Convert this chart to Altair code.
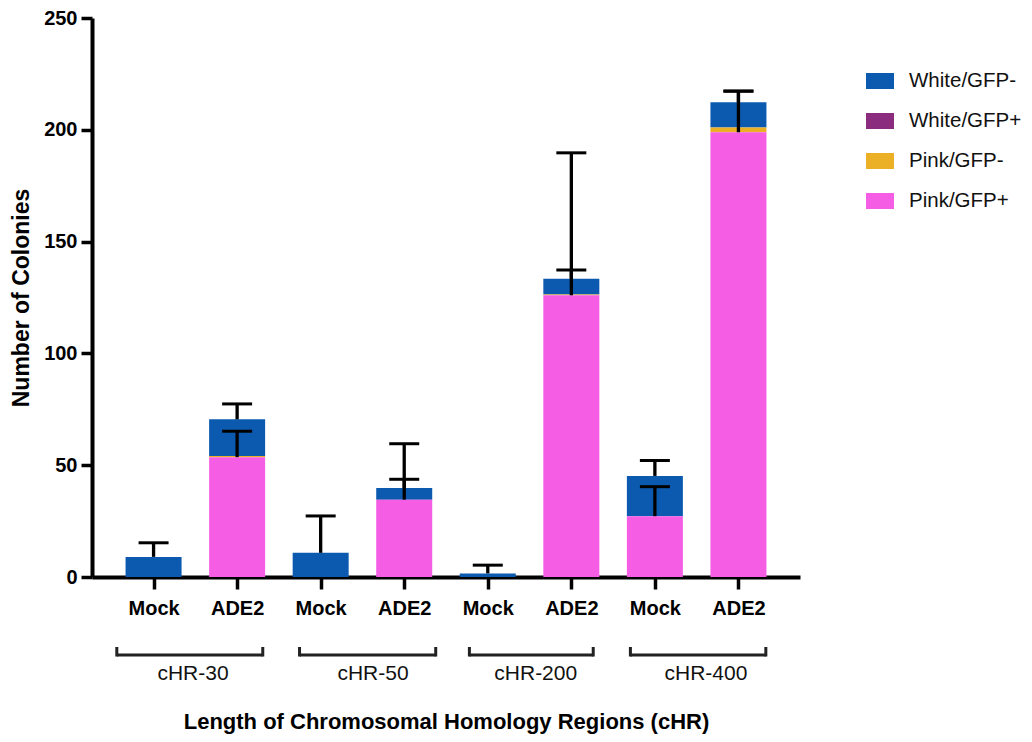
import altair as alt
import pandas as pd

# ---- data ----
groups = ["cHR-30", "cHR-50", "cHR-200", "cHR-400"]
tick_labels = ["Mock", "ADE2", "Mock", "ADE2", "Mock", "ADE2", "Mock", "ADE2"]
bar_group = ["cHR-30", "cHR-30", "cHR-50", "cHR-50", "cHR-200", "cHR-200", "cHR-400", "cHR-400"]
positions = [0, 1, 2, 3, 4, 5, 6, 7]

series = ["White/GFP-", "White/GFP+", "Pink/GFP-", "Pink/GFP+"]
colors = ["#0B5AB0", "#8B2C7E", "#ECB026", "#F55DE4"]
stack_rank = [3, 2, 1, 0]  # Pink/GFP+ at the bottom

white_gfp_neg = [9.0, 16.4, 10.8, 5.2, 1.6, 7.1, 18.0, 11.3]
white_gfp_pos = [0, 0, 0, 0, 0, 0, 0, 0]
pink_gfp_neg = [0, 0.5, 0, 0, 0, 0.3, 0, 2.1]
pink_gfp_pos = [0, 53.6, 0, 34.6, 0, 126.0, 27.2, 198.9]

total_sd = [6.3, 6.9, 16.5, 19.8, 3.7, 56.3, 6.9, 5.0]
pink_sd = [None, 11.6, None, 9.1, None, 11.3, 13.2, 18.4]

# group bracket spans and label centres, in bar-position units
bracket_start = [-0.44, 1.747, 3.78, 5.707]
bracket_end = [1.307, 3.377, 5.262, 7.328]
group_label_x = [0.472, 2.626, 4.574, 6.611]

# ---- tables ----
vals = [white_gfp_neg, white_gfp_pos, pink_gfp_neg, pink_gfp_pos]
rows = []
for s, r, v in zip(series, stack_rank, vals):
    for p, val in zip(positions, v):
        rows.append({"pos": p, "series": s, "rank": r, "value": val})
bar_df = pd.DataFrame(rows)

err_rows = []
for i, p in enumerate(positions):
    total = white_gfp_neg[i] + white_gfp_pos[i] + pink_gfp_neg[i] + pink_gfp_pos[i]
    err_rows.append({"pos": p, "base": total, "top": total + total_sd[i]})
    if pink_sd[i] is not None:
        err_rows.append({"pos": p, "base": pink_gfp_pos[i], "top": pink_gfp_pos[i] + pink_sd[i]})
err_df = pd.DataFrame(err_rows)

br_df = pd.DataFrame({"group": groups, "start": bracket_start, "end": bracket_end,
                      "label_x": group_label_x})

FONT = "Liberation Sans"
x_scale = alt.Scale(domain=[-0.677, 7.677], nice=False, zero=False)
y_scale = alt.Scale(domain=[0, 250], nice=False)
label_expr = "[" + ",".join("'" + t + "'" for t in tick_labels) + "][datum.value]"
legend_symbol = "M-1,-0.57L1,-0.57L1,0.57L-1,0.57Z"

bars = alt.Chart(bar_df).mark_bar(size=56).encode(
    x=alt.X("pos:Q", scale=x_scale,
            axis=alt.Axis(values=positions, labelExpr=label_expr,
                          title="Length of Chromosomal Homology Regions (cHR)",
                          domainWidth=4, domainColor="black",
                          tickWidth=3.5, tickSize=12, tickColor="black",
                          labelFont=FONT, labelFontSize=20, labelFontWeight="bold",
                          labelColor="black", labelPadding=9, labelFlush=False,
                          labelOverlap=False, labelBound=False,
                          titleFont=FONT, titleFontSize=22, titleFontWeight="bold",
                          titleColor="black", titleY=151.5, titleBaseline="alphabetic")),
    y=alt.Y("value:Q", stack="zero", scale=y_scale,
            axis=alt.Axis(values=[0, 50, 100, 150, 200, 250], title="Number of Colonies",
                          domainWidth=4, domainColor="black",
                          tickWidth=3.5, tickSize=11, tickColor="black",
                          labelFont=FONT, labelFontSize=20, labelFontWeight="bold",
                          labelColor="black", labelPadding=4,
                          titleFont=FONT, titleFontSize=23, titleFontWeight="bold",
                          titleColor="black", titlePadding=10)),
    color=alt.Color("series:N", scale=alt.Scale(domain=series, range=colors), title=None,
                    legend=alt.Legend(orient="none", legendX=774, legendY=49,
                                      symbolType=legend_symbol, symbolSize=784,
                                      symbolStrokeWidth=0, symbolOpacity=1,
                                      labelFont=FONT, labelFontSize=20.5, labelColor="#111",
                                      labelOffset=15, rowPadding=15, padding=0)),
    order=alt.Order("rank:Q", sort="ascending"),
)

err_lines = alt.Chart(err_df).mark_rule(strokeWidth=3.3, color="black").encode(
    x=alt.X("pos:Q", scale=x_scale),
    y=alt.Y("base:Q", scale=y_scale),
    y2="top:Q",
)
err_caps = alt.Chart(err_df).mark_tick(orient="horizontal", size=30, thickness=3,
                                       color="black", opacity=1).encode(
    x=alt.X("pos:Q", scale=x_scale),
    y=alt.Y("top:Q", scale=y_scale),
)

br_h = alt.Chart(br_df).mark_rule(strokeWidth=3, color="#222").encode(
    x=alt.X("start:Q", scale=x_scale), x2="end:Q", y=alt.value(637),
)
br_v = alt.Chart(br_df).transform_fold(["start", "end"], as_=["side", "xv"]).mark_rule(
    strokeWidth=3, color="#222").encode(
    x=alt.X("xv:Q", scale=x_scale), y=alt.value(629), y2=alt.value(638.5),
)
br_text = alt.Chart(br_df).mark_text(font=FONT, fontSize=21, color="#111",
                                     align="center", baseline="middle").encode(
    x=alt.X("label_x:Q", scale=x_scale), y=alt.value(656), text="group:N",
)

chart = alt.layer(bars, err_lines, err_caps, br_h, br_v, br_text).properties(
    width=708, height=559,
    autosize=alt.AutoSizeParams(type="none"),
    padding={"left": 84, "top": 10, "right": 223, "bottom": 157},
).configure_view(stroke=None).configure_axis(grid=False)

chart.save("out.html", embed_options={"renderer": "svg", "actions": False})
